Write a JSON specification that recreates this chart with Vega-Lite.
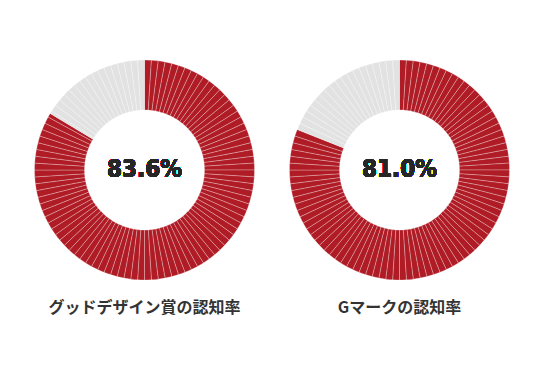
{
  "$schema": "https://vega.github.io/schema/vega-lite/v6.json",
  "background": "white",
  "padding": {"left": 17, "top": 50, "right": 0, "bottom": 20},
  "config": {"view": {"stroke": null}, "concat": {"spacing": 0}},
  "datasets": {
    "a": [
      {"i":1,"v":1,"s":"yes"},{"i":2,"v":1,"s":"yes"},{"i":3,"v":1,"s":"yes"},{"i":4,"v":1,"s":"yes"},{"i":5,"v":1,"s":"yes"},{"i":6,"v":1,"s":"yes"},{"i":7,"v":1,"s":"yes"},{"i":8,"v":1,"s":"yes"},{"i":9,"v":1,"s":"yes"},{"i":10,"v":1,"s":"yes"},
      {"i":11,"v":1,"s":"yes"},{"i":12,"v":1,"s":"yes"},{"i":13,"v":1,"s":"yes"},{"i":14,"v":1,"s":"yes"},{"i":15,"v":1,"s":"yes"},{"i":16,"v":1,"s":"yes"},{"i":17,"v":1,"s":"yes"},{"i":18,"v":1,"s":"yes"},{"i":19,"v":1,"s":"yes"},{"i":20,"v":1,"s":"yes"},
      {"i":21,"v":1,"s":"yes"},{"i":22,"v":1,"s":"yes"},{"i":23,"v":1,"s":"yes"},{"i":24,"v":1,"s":"yes"},{"i":25,"v":1,"s":"yes"},{"i":26,"v":1,"s":"yes"},{"i":27,"v":1,"s":"yes"},{"i":28,"v":1,"s":"yes"},{"i":29,"v":1,"s":"yes"},{"i":30,"v":1,"s":"yes"},
      {"i":31,"v":1,"s":"yes"},{"i":32,"v":1,"s":"yes"},{"i":33,"v":1,"s":"yes"},{"i":34,"v":1,"s":"yes"},{"i":35,"v":1,"s":"yes"},{"i":36,"v":1,"s":"yes"},{"i":37,"v":1,"s":"yes"},{"i":38,"v":1,"s":"yes"},{"i":39,"v":1,"s":"yes"},{"i":40,"v":1,"s":"yes"},
      {"i":41,"v":1,"s":"yes"},{"i":42,"v":1,"s":"yes"},{"i":43,"v":1,"s":"yes"},{"i":44,"v":1,"s":"yes"},{"i":45,"v":1,"s":"yes"},{"i":46,"v":1,"s":"yes"},{"i":47,"v":1,"s":"yes"},{"i":48,"v":1,"s":"yes"},{"i":49,"v":1,"s":"yes"},{"i":50,"v":1,"s":"yes"},
      {"i":51,"v":1,"s":"yes"},{"i":52,"v":1,"s":"yes"},{"i":53,"v":1,"s":"yes"},{"i":54,"v":1,"s":"yes"},{"i":55,"v":1,"s":"yes"},{"i":56,"v":1,"s":"yes"},{"i":57,"v":1,"s":"yes"},{"i":58,"v":1,"s":"yes"},{"i":59,"v":1,"s":"yes"},{"i":60,"v":1,"s":"yes"},
      {"i":61,"v":1,"s":"yes"},{"i":62,"v":1,"s":"yes"},{"i":63,"v":1,"s":"yes"},{"i":64,"v":1,"s":"yes"},{"i":65,"v":1,"s":"yes"},{"i":66,"v":1,"s":"yes"},{"i":67,"v":1,"s":"yes"},{"i":68,"v":1,"s":"yes"},{"i":69,"v":1,"s":"yes"},{"i":70,"v":1,"s":"yes"},
      {"i":71,"v":1,"s":"yes"},{"i":72,"v":1,"s":"yes"},{"i":73,"v":1,"s":"yes"},{"i":74,"v":1,"s":"yes"},{"i":75,"v":1,"s":"yes"},{"i":76,"v":1,"s":"yes"},{"i":77,"v":1,"s":"yes"},{"i":78,"v":1,"s":"yes"},{"i":79,"v":1,"s":"yes"},{"i":80,"v":1,"s":"yes"},
      {"i":81,"v":1,"s":"yes"},{"i":82,"v":1,"s":"yes"},{"i":83,"v":1,"s":"yes"},{"i":84,"v":0.6,"s":"yes"},{"i":85,"v":0.4,"s":"no"},{"i":86,"v":1,"s":"no"},{"i":87,"v":1,"s":"no"},{"i":88,"v":1,"s":"no"},{"i":89,"v":1,"s":"no"},{"i":90,"v":1,"s":"no"},
      {"i":91,"v":1,"s":"no"},{"i":92,"v":1,"s":"no"},{"i":93,"v":1,"s":"no"},{"i":94,"v":1,"s":"no"},{"i":95,"v":1,"s":"no"},{"i":96,"v":1,"s":"no"},{"i":97,"v":1,"s":"no"},{"i":98,"v":1,"s":"no"},{"i":99,"v":1,"s":"no"},{"i":100,"v":1,"s":"no"},{"i":101,"v":1,"s":"no"}
    ],
    "b": [
      {"i":1,"v":1,"s":"yes"},{"i":2,"v":1,"s":"yes"},{"i":3,"v":1,"s":"yes"},{"i":4,"v":1,"s":"yes"},{"i":5,"v":1,"s":"yes"},{"i":6,"v":1,"s":"yes"},{"i":7,"v":1,"s":"yes"},{"i":8,"v":1,"s":"yes"},{"i":9,"v":1,"s":"yes"},{"i":10,"v":1,"s":"yes"},
      {"i":11,"v":1,"s":"yes"},{"i":12,"v":1,"s":"yes"},{"i":13,"v":1,"s":"yes"},{"i":14,"v":1,"s":"yes"},{"i":15,"v":1,"s":"yes"},{"i":16,"v":1,"s":"yes"},{"i":17,"v":1,"s":"yes"},{"i":18,"v":1,"s":"yes"},{"i":19,"v":1,"s":"yes"},{"i":20,"v":1,"s":"yes"},
      {"i":21,"v":1,"s":"yes"},{"i":22,"v":1,"s":"yes"},{"i":23,"v":1,"s":"yes"},{"i":24,"v":1,"s":"yes"},{"i":25,"v":1,"s":"yes"},{"i":26,"v":1,"s":"yes"},{"i":27,"v":1,"s":"yes"},{"i":28,"v":1,"s":"yes"},{"i":29,"v":1,"s":"yes"},{"i":30,"v":1,"s":"yes"},
      {"i":31,"v":1,"s":"yes"},{"i":32,"v":1,"s":"yes"},{"i":33,"v":1,"s":"yes"},{"i":34,"v":1,"s":"yes"},{"i":35,"v":1,"s":"yes"},{"i":36,"v":1,"s":"yes"},{"i":37,"v":1,"s":"yes"},{"i":38,"v":1,"s":"yes"},{"i":39,"v":1,"s":"yes"},{"i":40,"v":1,"s":"yes"},
      {"i":41,"v":1,"s":"yes"},{"i":42,"v":1,"s":"yes"},{"i":43,"v":1,"s":"yes"},{"i":44,"v":1,"s":"yes"},{"i":45,"v":1,"s":"yes"},{"i":46,"v":1,"s":"yes"},{"i":47,"v":1,"s":"yes"},{"i":48,"v":1,"s":"yes"},{"i":49,"v":1,"s":"yes"},{"i":50,"v":1,"s":"yes"},
      {"i":51,"v":1,"s":"yes"},{"i":52,"v":1,"s":"yes"},{"i":53,"v":1,"s":"yes"},{"i":54,"v":1,"s":"yes"},{"i":55,"v":1,"s":"yes"},{"i":56,"v":1,"s":"yes"},{"i":57,"v":1,"s":"yes"},{"i":58,"v":1,"s":"yes"},{"i":59,"v":1,"s":"yes"},{"i":60,"v":1,"s":"yes"},
      {"i":61,"v":1,"s":"yes"},{"i":62,"v":1,"s":"yes"},{"i":63,"v":1,"s":"yes"},{"i":64,"v":1,"s":"yes"},{"i":65,"v":1,"s":"yes"},{"i":66,"v":1,"s":"yes"},{"i":67,"v":1,"s":"yes"},{"i":68,"v":1,"s":"yes"},{"i":69,"v":1,"s":"yes"},{"i":70,"v":1,"s":"yes"},
      {"i":71,"v":1,"s":"yes"},{"i":72,"v":1,"s":"yes"},{"i":73,"v":1,"s":"yes"},{"i":74,"v":1,"s":"yes"},{"i":75,"v":1,"s":"yes"},{"i":76,"v":1,"s":"yes"},{"i":77,"v":1,"s":"yes"},{"i":78,"v":1,"s":"yes"},{"i":79,"v":1,"s":"yes"},{"i":80,"v":1,"s":"yes"},
      {"i":81,"v":1,"s":"yes"},{"i":82,"v":1,"s":"no"},{"i":83,"v":1,"s":"no"},{"i":84,"v":1,"s":"no"},{"i":85,"v":1,"s":"no"},{"i":86,"v":1,"s":"no"},{"i":87,"v":1,"s":"no"},{"i":88,"v":1,"s":"no"},{"i":89,"v":1,"s":"no"},{"i":90,"v":1,"s":"no"},
      {"i":91,"v":1,"s":"no"},{"i":92,"v":1,"s":"no"},{"i":93,"v":1,"s":"no"},{"i":94,"v":1,"s":"no"},{"i":95,"v":1,"s":"no"},{"i":96,"v":1,"s":"no"},{"i":97,"v":1,"s":"no"},{"i":98,"v":1,"s":"no"},{"i":99,"v":1,"s":"no"},{"i":100,"v":1,"s":"no"}
    ]
  },
  "hconcat": [
    {
      "width": 255,
      "height": 240,
      "data": {"name": "a"},
      "title": {"text": "グッドデザイン賞の認知率", "orient": "bottom", "fontSize": 16, "font": "Noto Sans CJK JP", "fontWeight": "bold", "color": "#333333", "offset": 10},
      "layer": [
        {
          "mark": {"type": "arc", "innerRadius": 60, "outerRadius": 110, "stroke": "#ffffff", "strokeWidth": 0.6, "strokeOpacity": 0.45},
          "encoding": {
            "theta": {"field": "v", "type": "quantitative", "stack": true},
            "order": {"field": "i", "type": "quantitative"},
            "color": {"field": "s", "type": "nominal", "scale": {"domain": ["yes", "no"], "range": ["#b01c26", "#e2e2e2"]}, "legend": null}
          }
        },
        {
          "mark": {"type": "text", "text": "83.6%", "font": "DejaVu Sans Condensed", "fontWeight": "bold", "fontSize": 24, "color": "#262626"},
          "encoding": {}
        }
      ]
    },
    {
      "width": 255,
      "height": 240,
      "data": {"name": "b"},
      "title": {"text": "Gマークの認知率", "orient": "bottom", "fontSize": 16, "font": "Noto Sans CJK JP", "fontWeight": "bold", "color": "#333333", "offset": 10},
      "layer": [
        {
          "mark": {"type": "arc", "innerRadius": 60, "outerRadius": 110, "stroke": "#ffffff", "strokeWidth": 0.6, "strokeOpacity": 0.45},
          "encoding": {
            "theta": {"field": "v", "type": "quantitative", "stack": true},
            "order": {"field": "i", "type": "quantitative"},
            "color": {"field": "s", "type": "nominal", "scale": {"domain": ["yes", "no"], "range": ["#b01c26", "#e2e2e2"]}, "legend": null}
          }
        },
        {
          "mark": {"type": "text", "text": "81.0%", "font": "DejaVu Sans Condensed", "fontWeight": "bold", "fontSize": 24, "color": "#262626"},
          "encoding": {}
        }
      ]
    }
  ]
}
